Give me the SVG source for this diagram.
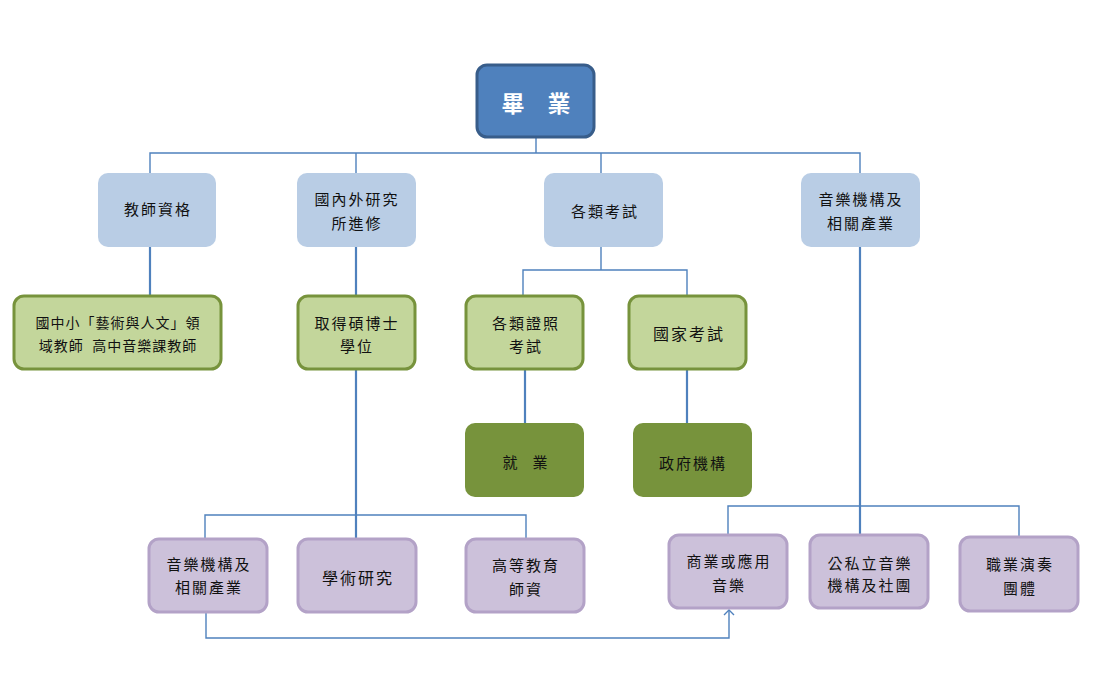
<svg xmlns="http://www.w3.org/2000/svg" width="1110" height="700" viewBox="0 0 1110 700">
<style>
text{font-family:"Noto Sans CJK TC","Noto Sans CJK SC",sans-serif;font-size:15px;fill:#111;text-anchor:middle;dominant-baseline:central;letter-spacing:2px}
.top rect{fill:#4f81bd;stroke:#385d8a;stroke-width:3}
.top text{fill:#fff;font-size:23px;font-weight:bold;letter-spacing:0}
.l2 rect{fill:#b9cde5}
.l3 rect{fill:#c3d69b;stroke:#77933c;stroke-width:3}
.l4 rect{fill:#77933c}
.l5 rect{fill:#ccc1da;stroke:#b3a2c7;stroke-width:3}
.thin{fill:none;stroke:#4f81bd;stroke-width:1.4}
.thick{fill:none;stroke:#4f81bd;stroke-width:2.2}
</style>
<defs>
<marker id="arr" viewBox="-6 -6 12 12" markerWidth="12" markerHeight="12" markerUnits="userSpaceOnUse" orient="auto">
<path d="M-5,-5 L0,0 L-5,5" fill="none" stroke="#4f81bd" stroke-width="1.4"/>
</marker>
</defs>
<g id="connectors">
<path class="thin" d="M536,137 V153 M150,173 V153 H860 V173 M356,153 V173 M601,153 V173"/>
<path class="thick" d="M150,247 V296 M356,247 V296 M356,369 V539 M860,247 V535"/>
<path class="thin" d="M601,247 V270 M523,296 V270 H687 V296"/>
<path class="thick" d="M525,369 V423 M687,369 V423"/>
<path class="thin" d="M205,539 V515 H526 V539"/>
<path class="thin" d="M728,535 V506 H1019 V537"/>
<path class="thin" d="M206,612 V638 H729 V610" marker-end="url(#arr)"/>
</g>
<g id="n-graduate" class="top"><rect x="477" y="65" width="117" height="72" rx="10"/><text x="536" y="102">畢　業</text></g>
<g id="n-teacher" class="l2"><rect x="98" y="173" width="118" height="74" rx="10"/><text x="158" y="208">教師資格</text></g>
<g id="n-grad-study" class="l2"><rect x="297" y="173" width="119" height="74" rx="10"/><text x="357" y="198">國內外研究</text><text x="357" y="222">所進修</text></g>
<g id="n-exams" class="l2"><rect x="544" y="173" width="119" height="74" rx="10"/><text x="605" y="210">各類考試</text></g>
<g id="n-music-inst" class="l2"><rect x="801" y="173" width="119" height="74" rx="10"/><text x="861" y="198">音樂機構及</text><text x="861" y="222">相關產業</text></g>
<g id="n-school-teacher" class="l3"><rect x="14" y="296" width="207" height="73" rx="10"/><text x="118" y="322" style="font-size:14px;letter-spacing:1px">國中小「藝術與人文」領</text><text x="118" y="345" style="font-size:14px;letter-spacing:1px" xml:space="preserve">域教師  高中音樂課教師</text></g>
<g id="n-degree" class="l3"><rect x="298" y="296" width="117" height="73" rx="10"/><text x="357" y="322">取得碩博士</text><text x="357" y="345">學位</text></g>
<g id="n-cert" class="l3"><rect x="466" y="296" width="117" height="73" rx="10"/><text x="526" y="322">各類證照</text><text x="526" y="345">考試</text></g>
<g id="n-national" class="l3"><rect x="629" y="296" width="117" height="73" rx="10"/><text x="689" y="333" style="font-size:16px">國家考試</text></g>
<g id="n-employ" class="l4"><rect x="465" y="423" width="119" height="74" rx="10"/><text x="525" y="461" style="letter-spacing:0">就　業</text></g>
<g id="n-gov" class="l4"><rect x="633" y="423" width="119" height="74" rx="10"/><text x="693" y="462">政府機構</text></g>
<g id="n-music-inst2" class="l5"><rect x="149" y="539" width="118" height="73" rx="10"/><text x="209" y="563">音樂機構及</text><text x="209" y="586">相關產業</text></g>
<g id="n-research" class="l5"><rect x="298" y="539" width="118" height="73" rx="10"/><text x="358" y="577" style="font-size:16px">學術研究</text></g>
<g id="n-higher-ed" class="l5"><rect x="466" y="539" width="118" height="73" rx="10"/><text x="526" y="564">高等教育</text><text x="526" y="588">師資</text></g>
<g id="n-commercial" class="l5"><rect x="669" y="535" width="118" height="73" rx="10"/><text x="729" y="560">商業或應用</text><text x="729" y="584">音樂</text></g>
<g id="n-public-private" class="l5"><rect x="810" y="535" width="118" height="73" rx="10"/><text x="870" y="562">公私立音樂</text><text x="870" y="584">機構及社團</text></g>
<g id="n-orchestra" class="l5"><rect x="960" y="537" width="118" height="74" rx="10"/><text x="1020" y="563">職業演奏</text><text x="1020" y="587">團體</text></g>
</svg>
